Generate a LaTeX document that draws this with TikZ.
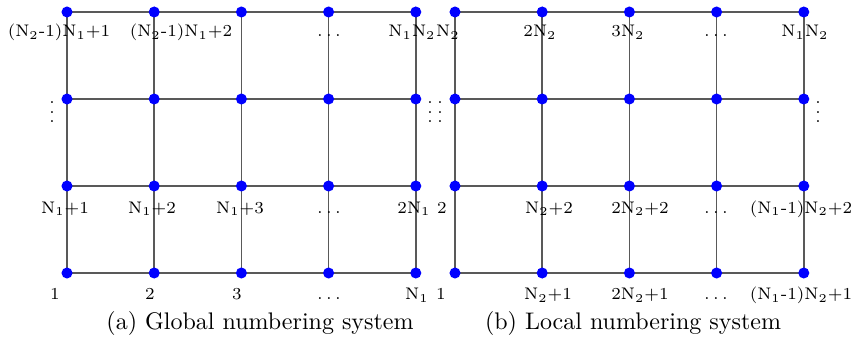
\documentclass[tikz,border=0pt]{standalone}
\usetikzlibrary{backgrounds}

\begin{document}
\begin{tikzpicture}[x=0.41667pt,y=-0.41667pt,
  dot/.style={circle,fill=blue,inner sep=0pt,minimum size=4.6pt},
  gridline/.style={draw=black!65,line width=0.6pt},
  numlabel/.style={font=\scriptsize,inner sep=0pt,anchor=base},
  moredots/.style={font=\scriptsize,inner sep=0pt},
  caption/.style={anchor=base}]
\useasboundingbox (0,0) rectangle (854,352);

% Nodes of both meshes: (a) global, (b) local.
\foreach \g/\xo in {a/67,b/455}
  \foreach \i in {1,...,5}
    \foreach \j/\yy in {1/273,2/186,3/99,4/12}
      \node[dot] (\g\i\j) at ({\xo+(\i-1)*87.2},\yy) {};

% Mesh lines behind the nodes.
\begin{scope}[on background layer]
\foreach \g in {a,b}
{
  \foreach \j in {1,...,4}
    \draw[gridline] (\g1\j.center) -- (\g5\j.center);
  \foreach \i in {1,...,5}
    \draw[gridline] (\g\i1.center) -- (\g\i4.center);
}
\end{scope}

% Global numbers.
\foreach \n/\x/\y/\t in {
  la14/59/37/{(N$_2$-1)N$_1$+1}, la24/181/37/{(N$_2$-1)N$_1$+2},
  la44/329/37/{$\ldots$}, la54/412/37/{N$_1$N$_2$},
  la12/65/213/{N$_1$+1}, la22/152/213/{N$_1$+2}, la32/240/213/{N$_1$+3},
  la42/329/213/{$\ldots$}, la52/414/213/{2N$_1$},
  la11/55/300/{1}, la21/150/300/{2}, la31/237/300/{3},
  la41/329/300/{$\ldots$}, la51/417/300/{N$_1$}}
  \node[numlabel] (\n) at (\x,\y) {\t};

% Local numbers.
\foreach \n/\x/\y/\t in {
  lb14/448/37/{N$_2$}, lb24/540/37/{2N$_2$}, lb34/628/37/{3N$_2$},
  lb44/716/37/{$\ldots$}, lb54/805/37/{N$_1$N$_2$},
  lb12/442/213/{2}, lb22/549/213/{N$_2$+2}, lb32/640/213/{2N$_2$+2},
  lb42/716/213/{$\ldots$}, lb52/801/213/{(N$_1$-1)N$_2$+2},
  lb11/441/300/{1}, lb21/548/300/{N$_2$+1}, lb31/640/300/{2N$_2$+1},
  lb41/716/300/{$\ldots$}, lb51/801/300/{(N$_1$-1)N$_2$+1}}
  \node[numlabel] (\n) at (\x,\y) {\t};

% Vertical dots beside the middle rows.
\node[moredots] (va1) at (52,105) {$\vdots$};
\node[moredots] (va2) at (430,105) {$\vdots$};
\node[moredots] (vb1) at (440,105) {$\vdots$};
\node[moredots] (vb2) at (818,105) {$\vdots$};

\node[caption] (capa) at (260,329) {(a) Global numbering system};
\node[caption] (capb) at (633,329) {(b) Local numbering system};

\end{tikzpicture}
\end{document}
